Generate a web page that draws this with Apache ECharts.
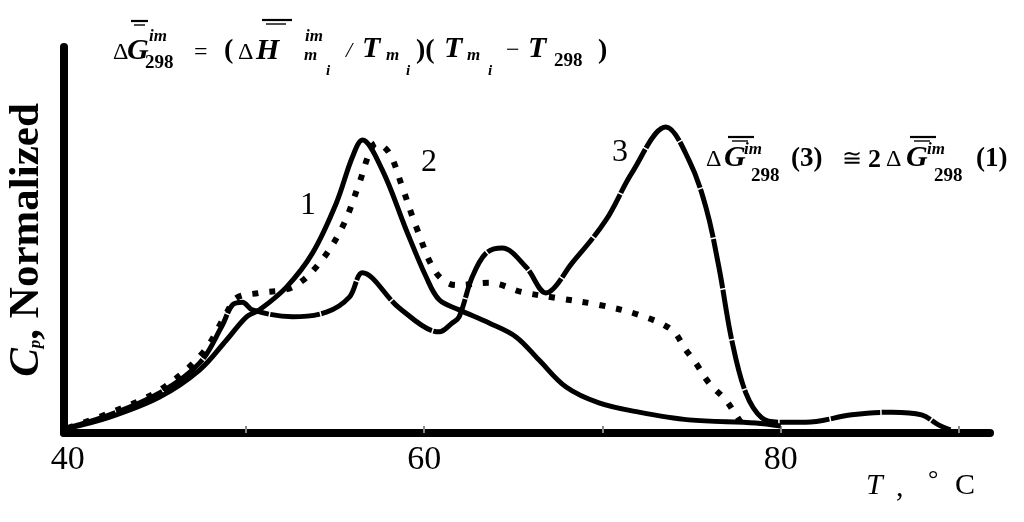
<!DOCTYPE html>
<html>
<head>
<meta charset="utf-8">
<script src="https://cdn.jsdelivr.net/npm/echarts@6/dist/echarts.min.js"></script>
<style>
html,body{margin:0;padding:0;background:#fff;}
#chart{width:1024px;height:522px;}
</style>
</head>
<body>
<div id="chart"></div>
<script>
// ---------- data ----------
const xTickLabels = [40, 60, 80];
const xTickMarks = [50, 60, 70, 80, 90];

const curve1X = [40, 42.35, 45.15, 47.39, 48.91, 50.03, 50.76, 52.27, 53.73, 55.07, 55.97, 56.53, 57.65, 58.99, 60.11, 60.84, 61.96, 63.64, 65.15, 66.44, 67.96, 69.8, 72.04, 74.85, 78.6, 80];
const curve1Y = [0.012, 0.041, 0.093, 0.163, 0.241, 0.301, 0.319, 0.378, 0.466, 0.596, 0.715, 0.759, 0.681, 0.526, 0.404, 0.345, 0.319, 0.285, 0.249, 0.189, 0.119, 0.078, 0.054, 0.034, 0.026, 0.018];

const curve2X = [40, 42.35, 45.15, 47.56, 48.91, 49.47, 50.76, 52.61, 54.12, 55.41, 56.36, 56.92, 57.31, 58.04, 58.77, 59.55, 60.67, 61.79, 63.64, 65.49, 67.39, 69.8, 72.04, 73.89, 74.68, 75.24, 75.97, 76.92, 77.48, 77.76];
const curve2Y = [0.013, 0.052, 0.111, 0.207, 0.311, 0.35, 0.363, 0.378, 0.44, 0.534, 0.648, 0.725, 0.751, 0.725, 0.637, 0.534, 0.415, 0.383, 0.389, 0.365, 0.35, 0.332, 0.306, 0.267, 0.215, 0.181, 0.13, 0.085, 0.047, 0.028];

const curve3X = [40, 42.35, 45.15, 47.39, 48.63, 49.24, 49.8, 50.36, 52.61, 54.51, 55.8, 56.53, 58.6, 60.84, 61.57, 61.96, 62.69, 63.47, 64.37, 65.71, 66.83, 68.29, 70.2, 71.65, 73.56, 74.85, 75.8, 76.53, 77.25, 78.04, 78.94, 79.89, 81.4, 83.98, 86.22, 87.9, 88.85, 89.52];
const curve3Y = [0.013, 0.047, 0.104, 0.181, 0.275, 0.332, 0.339, 0.319, 0.301, 0.313, 0.352, 0.415, 0.324, 0.262, 0.285, 0.301, 0.404, 0.466, 0.479, 0.43, 0.363, 0.44, 0.552, 0.674, 0.793, 0.707, 0.585, 0.43, 0.241, 0.104, 0.039, 0.028, 0.028, 0.047, 0.054, 0.047, 0.021, 0.008];

const curveNames = ['1', '2', '3'];
const xAxisTitle = ['T', ',', '°', 'C'];
const yAxisTitle = ['C', 'p', ', Normalized'];

// ---------- helpers ----------
const F = '"Liberation Serif", "DejaVu Serif", serif';
function pairs(xs, ys) { return xs.map((x, i) => [x, ys[i]]); }

function txt(text, x, y, font, align) {
  return {
    type: 'text', z: 50,
    style: { text: text, x: x, y: y, font: font, fill: '#000', align: align || 'left', verticalAlign: 'middle' }
  };
}
function bar(x1, x2, y, w) {
  return { type: 'line', z: 50, shape: { x1: x1, y1: y, x2: x2, y2: y }, style: { stroke: '#000', lineWidth: w } };
}

const BIG = 'italic bold 30px ' + F;
const SUP = 'italic bold 17px ' + F;
const SUBI = 'italic bold 15px ' + F;
const DIG = 'bold 19px ' + F;
const SYM = '24px ' + F;
const PAR = 'bold 28px ' + F;

const graphics = [
  // main formula
  txt('\u0394', 113, 53, SYM),
  txt('G', 127, 51, BIG),
  bar(131, 148, 21, 2.2), bar(134, 145, 25, 1.4),
  txt('im', 149, 37, SUP),
  txt('298', 145, 63, DIG),
  txt('=', 194, 53, SYM),
  txt('(', 224, 51, PAR),
  txt('\u0394', 238, 53, SYM),
  txt('H', 256, 51, BIG),
  bar(262, 292, 20, 2.2), bar(266, 286, 24, 1.4),
  txt('im', 305, 37, SUP),
  txt('m', 304, 56, SUP),
  txt('i', 326, 71, SUBI),
  txt('/', 346, 51, 'italic 22px ' + F),
  txt('T', 362, 49, BIG),
  txt('m', 386, 56, SUP),
  txt('i', 406, 71, SUBI),
  txt(')(', 416, 51, PAR),
  txt('T', 444, 49, BIG),
  txt('m', 467, 56, SUP),
  txt('i', 488, 71, SUBI),
  txt('\u2212', 506, 51, SYM),
  txt('T', 528, 49, BIG),
  txt('298', 554, 61, DIG),
  txt(')', 598, 51, PAR),

  // right annotation
  txt('\u0394', 706, 160, SYM),
  txt('G', 724, 158, BIG),
  bar(728, 754, 137, 2.2), bar(732, 748, 141, 1.4),
  txt('im', 744, 150, SUP),
  txt('298', 751, 176, DIG),
  txt('(3)', 791, 159, 'bold 27px ' + F),
  txt('\u2245', 842, 160, SYM),
  txt('2', 868, 160, 'bold 26px ' + F),
  txt('\u0394', 886, 160, SYM),
  txt('G', 906, 158, BIG),
  bar(910, 936, 137, 2.2), bar(914, 930, 141, 1.4),
  txt('im', 927, 150, SUP),
  txt('298', 934, 176, DIG),
  txt('(1)', 976, 159, 'bold 27px ' + F),

  // curve numbers
  txt(curveNames[0], 308, 206, '32px ' + F, 'center'),
  txt(curveNames[1], 429, 163, '32px ' + F, 'center'),
  txt(curveNames[2], 620, 153, '32px ' + F, 'center'),

  // x-axis title
  txt(xAxisTitle[0], 866, 486, 'italic 30px ' + F),
  txt(xAxisTitle[1], 896, 488, '30px ' + F),
  txt(xAxisTitle[2], 928, 480, '26px ' + F),
  txt(xAxisTitle[3], 955, 486, '30px ' + F)
];

// ---------- chart ----------
const chart = echarts.init(document.getElementById('chart'), null, { renderer: 'canvas' });
chart.setOption({
  backgroundColor: '#fff',
  animation: false,
  grid: { left: 64, top: 47, width: 926, height: 386, containLabel: false, outerBoundsMode: 'none' },
  xAxis: {
    type: 'value', min: 39.79, max: 91.74,
    axisLine: { show: true, lineStyle: { color: '#000', width: 8 } },
    axisTick: { show: true, inside: true, length: 7, customValues: xTickMarks, lineStyle: { color: '#888', width: 2 } },
    axisLabel: { show: true, customValues: xTickLabels, margin: 10, fontSize: 34, fontFamily: F, color: '#000' },
    splitLine: { show: false }
  },
  yAxis: {
    type: 'value', min: 0, max: 1,
    axisLine: { show: true, lineStyle: { color: '#000', width: 8 } },
    axisTick: { show: false },
    axisLabel: { show: false },
    splitLine: { show: false },
    name: '{c|' + yAxisTitle[0] + '}{p|' + yAxisTitle[1] + '}{n|' + yAxisTitle[2] + '}',
    nameLocation: 'middle',
    nameRotate: 90,
    nameGap: 12,
    nameTextStyle: {
      fontFamily: F, color: '#000',
      rich: {
        c: { fontFamily: F, fontSize: 43, fontWeight: 'bold', fontStyle: 'italic', lineHeight: 50, verticalAlign: 'middle' },
        p: { fontFamily: F, fontSize: 17, fontWeight: 'bold', fontStyle: 'italic', lineHeight: 50, verticalAlign: 'bottom', padding: [0, 0, 8, 0] },
        n: { fontFamily: F, fontSize: 43, fontWeight: 'bold', lineHeight: 50, verticalAlign: 'middle' }
      }
    }
  },
  series: [
    {
      name: curveNames[0], type: 'line', data: pairs(curve1X, curve1Y), smooth: 0.35,
      showSymbol: false, symbol: 'none',
      lineStyle: { color: '#000', width: 5, type: 'solid' }, z: 3
    },
    {
      name: curveNames[1], type: 'line', data: pairs(curve2X, curve2Y), smooth: 0.35,
      showSymbol: false, symbol: 'none',
      lineStyle: { color: '#000', width: 6, type: [6, 11], cap: 'butt' }, z: 2
    },
    {
      name: curveNames[2], type: 'line', data: pairs(curve3X, curve3Y), smooth: 0.35,
      showSymbol: false, symbol: 'none',
      lineStyle: { color: '#000', width: 5, type: [50, 1.5] }, z: 4
    }
  ],
  graphic: graphics
});
</script>
</body>
</html>
